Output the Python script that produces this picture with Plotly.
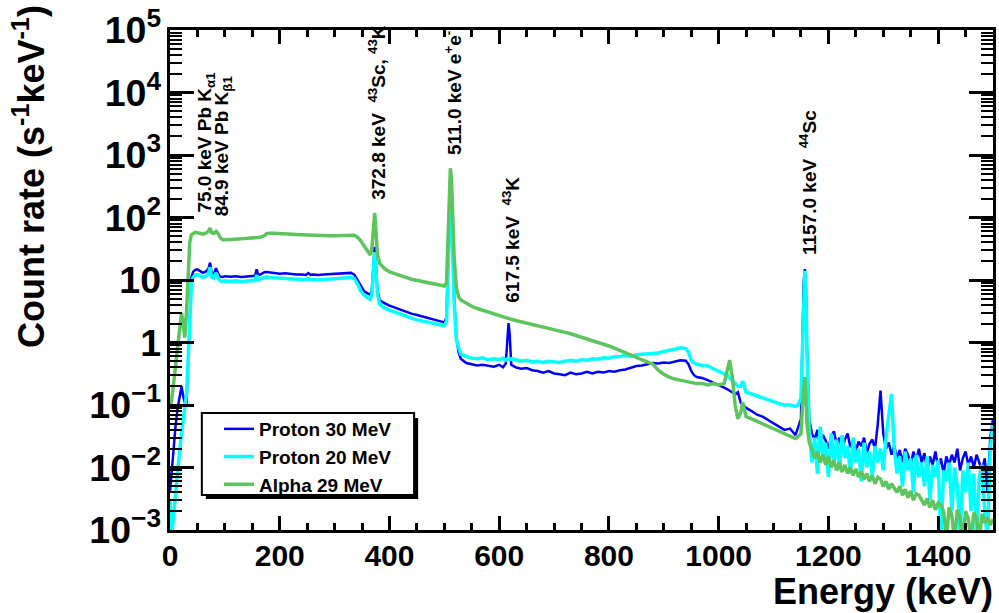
import plotly.graph_objects as go

# ---------------- data ----------------
# Segment A: 0-100 keV
energy_a = [0, 3, 6, 10, 14, 18, 21, 24, 27, 30, 33, 36, 39, 42, 46, 50, 55, 60, 65, 70,
            73, 76, 80, 84, 88, 92, 96, 100]
p30_a = [0.004, 0.008, 0.02, 0.045, 0.09, 0.15, 0.2, 0.14, 0.11, 0.1, 0.6, 4, 11, 13.5,
         14.5, 14.8, 13.8, 13, 13.6, 15, 19, 13, 12.6, 15.5, 12.5, 11.3, 11.2, 11.5]
p20_a = [0.003, 0.0008, 0.0015, 0.004, 0.009, 0.02, 0.035, 0.06, 0.1, 0.15, 0.5, 3, 9, 11,
         12, 12.2, 11.5, 11, 11.4, 12.5, 16, 11, 10.6, 13, 10.5, 9.6, 9.5, 9.7]
a29_a = [0.09, 0.12, 0.2, 0.4, 0.8, 1.6, 3.0, 2.0, 1.2, 3, 15, 40, 53, 56,
         58, 57, 55, 54, 56, 60, 68, 57, 56, 60, 55, 47, 44, 44]

# Segment B: 110-330 keV
energy_b = [110, 120, 130, 140, 150, 155, 158, 161, 166, 172, 176, 180, 190, 200, 210,
            220, 230, 240, 248, 252, 256, 260, 270, 280, 290, 300, 310, 320, 330]
p30_b = [11.3, 11.5, 11.2, 11.3, 11.5, 11.7, 14.8, 12.0, 12.4, 13.3, 13.4, 13.2, 13.0, 12.6, 12.8,
         12.4, 12.3, 12.2, 12.0, 12.9, 12.1, 12.2, 12.0, 12.2, 12.3, 12.5, 12.6, 12.8, 13.0]
p20_b = [9.5, 9.7, 9.4, 9.5, 9.7, 9.9, 12.0, 10.0, 10.4, 11.0, 11.2, 11.0, 10.9, 10.6, 10.7,
         10.4, 10.3, 10.2, 10.1, 10.6, 10.1, 10.2, 10.0, 10.2, 10.3, 10.5, 10.6, 10.8, 11.0]
a29_b = [44, 45, 45.5, 46, 47, 47, 47.5, 48, 49, 51, 55, 56, 56, 55, 54.5,
         54, 53.5, 53, 52.5, 52.5, 52, 52, 51.5, 51, 51, 51, 51.5, 52, 53]

# Segment C: 336-500 keV (372.8 keV line)
energy_c = [336, 342, 348, 354, 360, 365, 368, 371, 373, 375, 378, 382, 390, 400, 410,
            420, 430, 440, 450, 460, 470, 480, 490, 500]
p30_c = [12.2, 10.0, 7.8, 6.6, 6.1, 5.8, 7.0, 25, 34, 20, 7, 4.8, 4.3, 3.9, 3.6,
         3.35, 3.1, 2.9, 2.75, 2.6, 2.45, 2.35, 2.2, 2.1]
p20_c = [10.5, 8.6, 6.6, 5.7, 5.2, 4.9, 6.0, 20, 28, 16, 6, 4.1, 3.6, 3.3, 3.05,
         2.8, 2.6, 2.45, 2.3, 2.2, 2.1, 2.0, 1.9, 1.85]
a29_c = [52, 48, 42, 35, 29, 25, 32, 80, 118, 70, 26, 18.6, 15.5, 13.5, 12.5,
         11.7, 11, 10.3, 9.9, 9.4, 9, 8.6, 8.3, 8.0]

# Segment D: 504-530 keV (511 keV annihilation line)
energy_d = [504, 507, 509, 511, 513, 515, 518, 522, 526, 530]
p30_d = [2.5, 30, 130, 210, 150, 40, 5, 1.2, 0.7, 0.55]
p20_d = [2.2, 25, 110, 195, 130, 32, 4, 1.1, 0.8, 0.65]
a29_d = [9, 60, 330, 615, 420, 110, 22, 7.5, 5.4, 4.8]

# Segment E: 540-1000 keV (617.5 keV line)
energy_e = [540, 550, 560, 570, 580, 590, 600, 607, 612, 615, 617, 619, 622, 630, 640,
            650, 660, 670, 680, 690, 700, 710, 720, 730, 740, 750, 760, 770, 780, 790,
            800, 810, 820, 830, 840, 850, 860, 870, 880, 890, 900, 910, 920, 930, 940,
            945, 950, 955, 960, 970, 980, 990, 1000]
p30_e = [0.47, 0.45, 0.43, 0.44, 0.42, 0.41, 0.44, 0.40, 0.46, 1.3, 2.05, 1.4, 0.44, 0.40, 0.38,
         0.39, 0.36, 0.35, 0.33, 0.35, 0.32, 0.31, 0.30, 0.33, 0.31, 0.32, 0.34, 0.32, 0.34, 0.33,
         0.35, 0.34, 0.36, 0.37, 0.39, 0.42, 0.43, 0.45, 0.47, 0.46, 0.48, 0.47, 0.50, 0.52, 0.51,
         0.45, 0.35, 0.30, 0.28, 0.27, 0.25, 0.23, 0.21]
p20_e = [0.6, 0.56, 0.55, 0.57, 0.53, 0.55, 0.53, 0.56, 0.52, 0.55, 0.54, 0.53, 0.55, 0.52, 0.5,
         0.52, 0.49, 0.5, 0.48, 0.5, 0.49, 0.48, 0.5, 0.52, 0.5, 0.53, 0.52, 0.55, 0.54, 0.57,
         0.56, 0.59, 0.6, 0.62, 0.6, 0.64, 0.65, 0.66, 0.69, 0.68, 0.72, 0.74, 0.78, 0.82, 0.8,
         0.7, 0.52, 0.47, 0.45, 0.43, 0.42, 0.38, 0.35]
a29_e = [4.2, 3.8, 3.5, 3.3, 3.1, 2.9, 2.75, 2.6, 2.5, 2.45, 2.4, 2.4, 2.35, 2.25, 2.15,
         2.05, 1.95, 1.85, 1.78, 1.7, 1.6, 1.52, 1.45, 1.38, 1.3, 1.22, 1.15, 1.08, 1.0, 0.95,
         0.88, 0.81, 0.75, 0.7, 0.64, 0.58, 0.53, 0.49, 0.45, 0.36, 0.31, 0.28, 0.26, 0.25, 0.24,
         0.23, 0.23, 0.22, 0.22, 0.22, 0.21, 0.22, 0.21]

# Segment F: 1010-1165 keV (1157 keV line)
energy_f = [1010, 1015, 1020, 1025, 1030, 1035, 1040, 1044, 1050, 1060, 1070, 1080, 1090,
            1100, 1110, 1120, 1130, 1140, 1145, 1150, 1153, 1155, 1157, 1159, 1161, 1165]
p30_f = [0.19, 0.18, 0.17, 0.16, 0.15, 0.16, 0.11, 0.1, 0.09, 0.08, 0.07, 0.065, 0.057,
         0.05, 0.045, 0.04, 0.042, 0.033, 0.045, 0.06, 1.5, 9, 15, 8, 0.8, 0.06]
p20_f = [0.32, 0.3, 0.27, 0.24, 0.22, 0.2, 0.2, 0.24, 0.16, 0.15, 0.14, 0.13, 0.12,
         0.11, 0.105, 0.1, 0.1, 0.095, 0.1, 0.13, 1.2, 8, 14, 7, 0.6, 0.04]
a29_f = [0.22, 0.35, 0.52, 0.28, 0.1, 0.06, 0.075, 0.11, 0.065, 0.06, 0.055, 0.05, 0.046,
         0.042, 0.038, 0.035, 0.032, 0.029, 0.031, 0.035, 0.1, 0.2, 0.28, 0.15, 0.05, 0.025]

# Segment G: 1170-1500 keV, 5 keV steps
energy_g = [1170, 1175, 1180, 1185, 1190, 1195, 1200, 1205, 1210, 1215,
            1220, 1225, 1230, 1235, 1240, 1245, 1250, 1255, 1260, 1265,
            1270, 1275, 1280, 1285, 1290, 1295, 1300, 1305, 1310, 1315,
            1320, 1325, 1330, 1335, 1340, 1345, 1350, 1355, 1360, 1365,
            1370, 1375, 1380, 1385, 1390, 1395, 1400, 1405, 1410, 1415,
            1420, 1425, 1430, 1435, 1440, 1445, 1450, 1455, 1460, 1465,
            1470, 1475, 1480, 1485, 1490, 1495, 1500]
p30_g = [0.035, 0.028, 0.04, 0.022, 0.033, 0.027, 0.02, 0.031, 0.038, 0.024,
         0.03, 0.019, 0.028, 0.035, 0.021, 0.027, 0.018, 0.026, 0.022, 0.03,
         0.017, 0.024, 0.028, 0.02, 0.05, 0.17, 0.035, 0.02, 0.025, 0.016,
         0.022, 0.014, 0.019, 0.012, 0.02, 0.016, 0.011, 0.018, 0.013, 0.02,
         0.012, 0.017, 0.009, 0.015, 0.011, 0.018, 0.01, 0.014, 0.008, 0.015,
         0.011, 0.016, 0.012, 0.02, 0.009, 0.014, 0.018, 0.011, 0.015, 0.01,
         0.016, 0.012, 0.009, 0.014, 0.004, 0.03, 0.06]
p20_g = [0.012, 0.03, 0.008, 0.045, 0.015, 0.025, 0.007, 0.035, 0.012, 0.028,
         0.009, 0.033, 0.014, 0.022, 0.008, 0.03, 0.012, 0.02, 0.006, 0.025,
         0.01, 0.018, 0.007, 0.022, 0.012, 0.02, 0.009, 0.03, 0.06, 0.15,
         0.02, 0.008, 0.015, 0.005, 0.018, 0.009, 0.014, 0.004, 0.016, 0.007,
         0.012, 0.005, 0.015, 0.003, 0.011, 0.007, 0.013, 0.0007, 0.009, 0.006,
         0.012, 0.002, 0.01, 0.005, 0.0007, 0.009, 0.004, 0.012, 0.002, 0.008,
         0.0007, 0.007, 0.011, 0.002, 0.0007, 0.02, 0.05]
a29_g = [0.02, 0.014, 0.018, 0.012, 0.016, 0.011, 0.015, 0.01, 0.013, 0.009,
         0.012, 0.0085, 0.011, 0.008, 0.01, 0.0075, 0.0095, 0.007, 0.0085, 0.0065,
         0.008, 0.006, 0.0075, 0.0055, 0.007, 0.0065, 0.005, 0.006, 0.0045, 0.0055,
         0.0048, 0.004, 0.005, 0.0036, 0.0045, 0.0033, 0.0042, 0.003, 0.0038, 0.0036,
         0.003, 0.0025, 0.0032, 0.0023, 0.003, 0.0021, 0.0027, 0.0025, 0.002, 0.0007,
         0.0023, 0.0017, 0.0007, 0.0021, 0.0016, 0.0007, 0.002, 0.0015, 0.0007, 0.0019,
         0.0016, 0.0007, 0.0018, 0.0013, 0.0016, 0.0012, 0.0015]

series_names = ["Proton 30 MeV", "Proton 20 MeV", "Alpha 29 MeV"]
series_colors = ["#0000ff", "#00ffff", "#5ec45e"]

energy_kev = energy_a + energy_b + energy_c + energy_d + energy_e + energy_f + energy_g
rate_p30 = p30_a + p30_b + p30_c + p30_d + p30_e + p30_f + p30_g
rate_p20 = p20_a + p20_b + p20_c + p20_d + p20_e + p20_f + p20_g
rate_a29 = a29_a + a29_b + a29_c + a29_d + a29_e + a29_f + a29_g

# peak labels: (energy position, log10 of bottom y, text)
label_x = [64, 96, 378, 516, 621, 1164]
label_logy = [2.04, 1.99, 2.25, 2.97, 0.6, 1.37]
label_text = ["75.0 keV Pb K<sub>α1</sub>",
              "84.9 keV Pb K<sub>β1</sub>",
              "372.8 keV\u00a0\u00a0<sup>43</sup>Sc,\u00a0<sup>43</sup>K",
              "511.0 keV e<sup>+</sup>e<sup>-</sup>",
              "617.5 keV\u00a0\u00a0<sup>43</sup>K",
              "1157.0 keV\u00a0\u00a0<sup>44</sup>Sc"]

FONT = "Liberation Sans, Arial, Helvetica, sans-serif"

fig = go.Figure()
widths = [2.5, 3.5, 3.5]
for name, color, ys, w in zip(series_names, series_colors, [rate_p30, rate_p20, rate_a29], widths):
    fig.add_trace(go.Scatter(x=energy_kev, y=ys, mode="lines", name=name,
                             line=dict(color=color, width=w)))

annotations = []
for lx, ly, lt in zip(label_x, label_logy, label_text):
    annotations.append(dict(x=lx, y=ly, xref="x", yref="y", text=lt, showarrow=False,
                            textangle=-90, xanchor="center", yanchor="bottom",
                            font=dict(family=FONT, size=19, color="black", weight="bold")))
annotations.append(dict(x=-0.1707, y=1.054, xref="paper", yref="paper",
                        text="Count rate (s<sup>-1</sup>keV<sup>-1</sup>)", showarrow=False,
                        textangle=-90, xanchor="center", yanchor="top",
                        font=dict(family=FONT, size=36, color="black", weight="bold")))
annotations.append(dict(x=1.002, y=-0.168, xref="paper", yref="paper",
                        text="Energy (keV)", showarrow=False, xanchor="right", yanchor="bottom",
                        font=dict(family=FONT, size=36, color="black", weight="bold")))

shapes = [
    dict(type="rect", xref="paper", yref="paper", x0=0.0436, x1=0.3015, y0=0.062, y1=0.224,
         fillcolor="black", line=dict(width=0), layer="above"),
    dict(type="rect", xref="paper", yref="paper", x0=0.0387, x1=0.2966, y0=0.070, y1=0.234,
         fillcolor="white", line=dict(color="black", width=2), layer="above"),
]

fig.update_layout(
    width=999, height=613,
    margin=dict(l=170, r=3, t=30, b=83),
    paper_bgcolor="white", plot_bgcolor="white",
    showlegend=True,
    legend=dict(x=0.0595, y=0.24, xanchor="left", yanchor="top",
                bgcolor="rgba(0,0,0,0)", borderwidth=0,
                font=dict(family=FONT, size=19, color="black", weight="bold")),
    annotations=annotations,
    shapes=shapes,
    xaxis=dict(range=[0, 1500], showline=True, linewidth=3, linecolor="black",
               mirror="allticks", ticks="inside", ticklen=14, tickwidth=3, tickcolor="black",
               tick0=0, dtick=200, showgrid=False, zeroline=False,
               ticklabelstandoff=-3,
               minor=dict(ticks="inside", ticklen=7, tickwidth=2.5, tickcolor="black",
                          tick0=0, dtick=50, showgrid=False),
               tickfont=dict(family=FONT, size=30, color="black", weight="bold")),
    yaxis=dict(type="log", range=[-3, 5], showline=True, linewidth=3, linecolor="black",
               mirror="allticks", ticks="inside", ticklen=24, tickwidth=3, tickcolor="black",
               dtick=1, exponentformat="power", showgrid=False, zeroline=False,
               minor=dict(ticks="inside", ticklen=12, tickwidth=2, tickcolor="black",
                          dtick="D1", showgrid=False),
               tickfont=dict(family=FONT, size=30, color="black", weight="bold")),
)

fig.write_html("out.html", config={"displayModeBar": False},
               post_script="document.body.style.margin='0px';document.body.style.padding='0px';")
